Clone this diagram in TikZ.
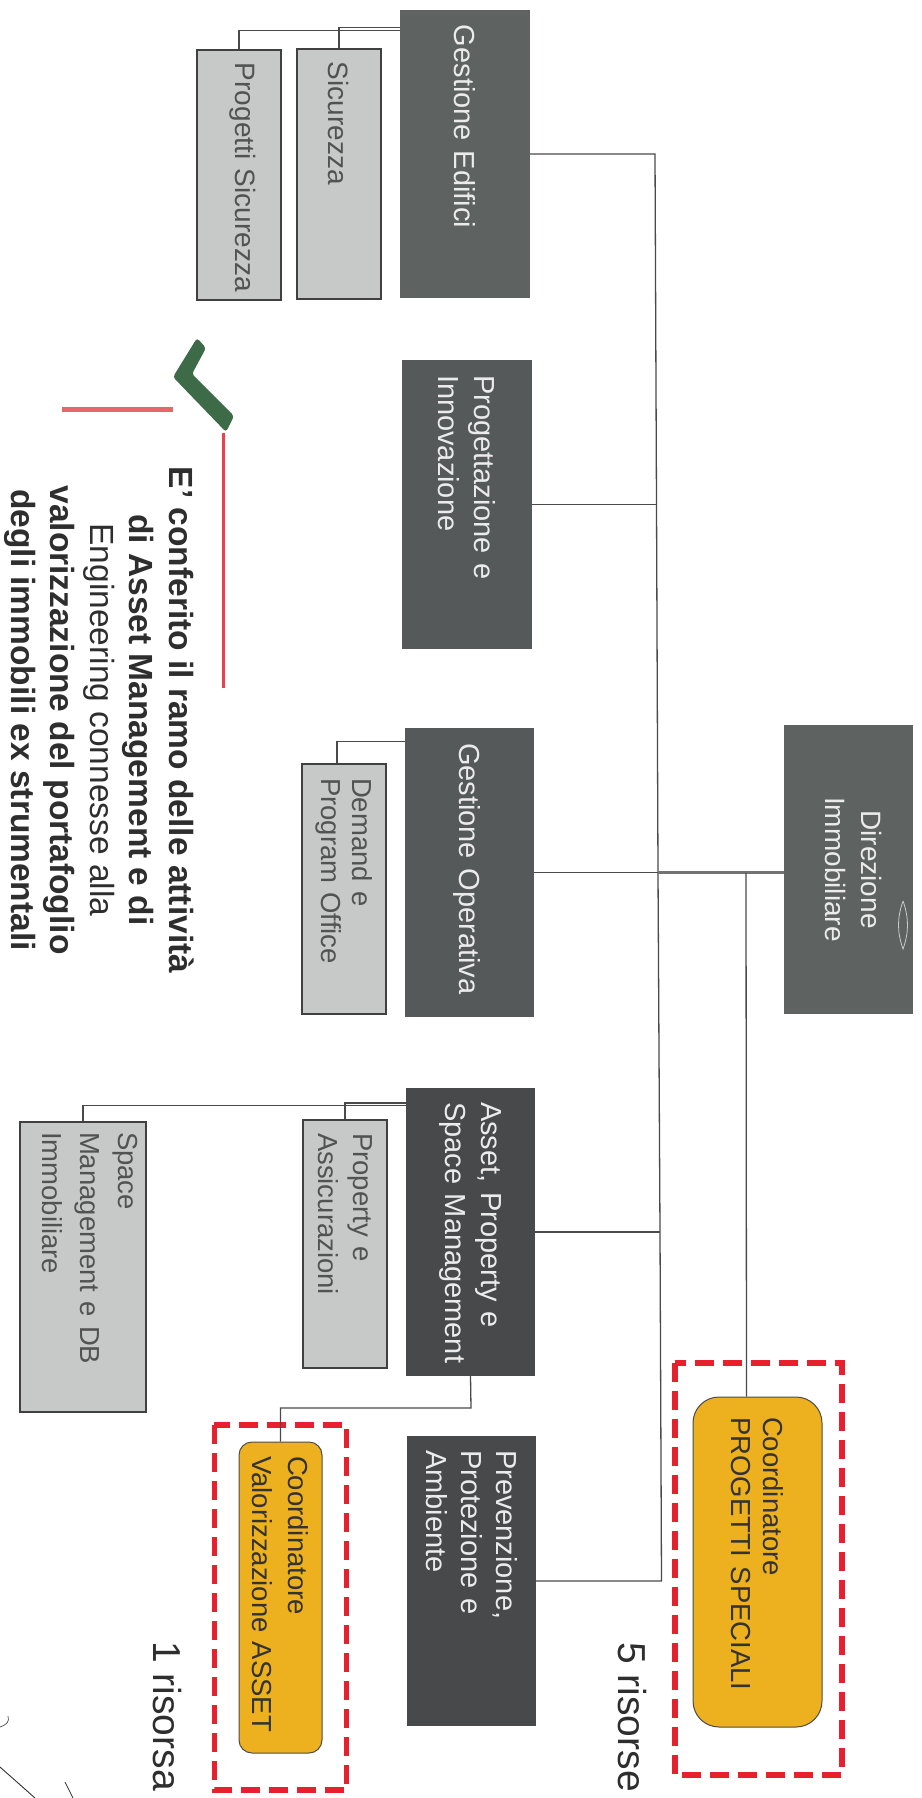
\documentclass[tikz,border=0pt]{standalone}
\usepackage{fontspec}
\setmainfont{Liberation Sans}
\usetikzlibrary{calc}
\lefthyphenmin=64
\definecolor{darkA}{HTML}{5E6361}
\definecolor{darkB}{HTML}{55595A}
\definecolor{darkC}{HTML}{47494A}
\definecolor{lightbox}{HTML}{C6C9C7}
\definecolor{orangebox}{HTML}{EDB01E}
\definecolor{reddash}{HTML}{E8202E}
\definecolor{linecol}{HTML}{4A4A4A}
\definecolor{checkgreen}{HTML}{3E6B47}
\tikzset{
  orgbox/.style={rotate=-90,inner sep=0pt,align=left,anchor=center},
  darkbox/.style={orgbox,fill=#1,text=white!92!black},
  greybox/.style={orgbox,fill=lightbox,draw=black!75,line width=1.2pt,text=black!68},
  coordbox/.style={orgbox,fill=orangebox,draw=black!70,line width=1pt,text=black!80,rounded corners=#1},
  conn/.style={draw=linecol,line width=1.3pt},
  dashbox/.style={draw=reddash,line width=5.5pt,dash pattern=on 19pt off 9pt},
  note/.style={rotate=-90,inner sep=0pt,text=black!82},
}
\begin{document}
\begin{tikzpicture}[x=1pt,y=-1pt]
\useasboundingbox (0,0) rectangle (921,1798);
% dashed frames
\node[draw=none,inner sep=0pt,minimum width=167pt,minimum height=412pt] (frameB) at (758.5,1569) {};
\node[draw=none,inner sep=0pt,minimum width=132pt,minimum height=365pt] (frameA) at (280.5,1607.5) {};
% top-level boxes
\node[darkbox=darkA,minimum width=288pt,minimum height=130pt,text width=258pt,font=\fontsize{29}{36}\selectfont] (ge) at (465,154) {Gestione Edifici};
\node[darkbox=darkB,minimum width=289pt,minimum height=130pt,text width=259pt,font=\fontsize{29}{36}\selectfont] (pi) at (467,504.5) {Progettazione e\\Innovazione};
\node[darkbox=darkB,minimum width=289pt,minimum height=129pt,text width=259pt,font=\fontsize{29}{36}\selectfont] (go) at (469.5,872.5) {\rule{0pt}{27pt}Gestione Operativa};
\node[darkbox=darkC,minimum width=288pt,minimum height=129pt,text width=260pt,font=\fontsize{29}{36}\selectfont] (ap) at (470.5,1232) {Asset, Property e\\\mbox{Space Management}};
\node[darkbox=darkC,minimum width=290pt,minimum height=129pt,text width=262pt,font=\fontsize{29}{35}\selectfont] (pp) at (471.5,1581) {Prevenzione,\\Protezione e\\Ambiente};
\node[darkbox=darkA,minimum width=289pt,minimum height=129pt,text width=289pt,align=center,font=\fontsize{28}{36}\selectfont] (di) at (848.5,869.5) {Direzione\\Immobiliare\rule[-10pt]{0pt}{1pt}};
% grey boxes
\node[greybox,minimum width=250pt,minimum height=84pt,text width=224pt,font=\fontsize{28}{34}\selectfont] (si) at (339,174) {Sicurezza};
\node[greybox,minimum width=250pt,minimum height=84pt,text width=224pt,font=\fontsize{28}{34}\selectfont] (ps) at (239,175) {\mbox{Progetti Sicurezza}\rule[-14pt]{0pt}{1pt}};
\node[greybox,minimum width=250pt,minimum height=84pt,text width=222pt,font=\fontsize{27.5}{31}\selectfont] (de) at (344,889) {Demand e\\Program Office};
\node[greybox,minimum width=248pt,minimum height=84pt,text width=222pt,font=\fontsize{27.5}{35}\selectfont] (pa) at (345,1244) {Property e\\Assicurazioni};
\node[greybox,minimum width=290pt,minimum height=126pt,text width=270pt,font=\fontsize{27.5}{38}\selectfont] (sm) at (83,1267) {Space\\Management e DB\\Immobiliare\rule[-14pt]{0pt}{1pt}};
% orange boxes
\node[coordbox=26pt,minimum width=330pt,minimum height=129pt,text width=290pt,font=\fontsize{27.5}{32}\selectfont] (cp) at (757.5,1562) {Coordinatore\\PROGETTI SPECIALI};
\node[coordbox=13pt,minimum width=311pt,minimum height=83pt,text width=283pt,font=\fontsize{27.5}{36}\selectfont] (cv) at (280.5,1597.5) {Coordinatore\\Valorizzazione ASSET};
% dashed frames drawn
\draw[dashbox] (frameB.north west) rectangle (frameB.south east);
\draw[dashbox] (frameA.north west) rectangle (frameA.south east);
% bus
\coordinate (busA) at (655,154);
\coordinate (busB) at (656.5,504.5);
\coordinate (busC) at (658,872.5);
\coordinate (busD) at (660,1232);
\coordinate (busE) at (661.5,1581);
\coordinate (branch) at (746,872.5);
\coordinate (apelbow) at (471,1408);
\draw[conn] (ge.north) -- (busA) -- (busB) -- (busC) -- (busD) -- (busE) -- (pp.north);
\draw[conn] (pi.north) -- (busB);
\draw[conn] (go.north) -- (busC);
\draw[conn] (ap.north) -- (busD);
\draw[draw=black!55,line width=2.6pt] (busC) -- (busC -| di.south);
\draw[conn] (branch) -- ([xshift=-11pt]cp.west);
\draw[conn] (ap.east) -- (apelbow) -| (cv.west);
\draw[conn] ([yshift=-18pt]ge.south west) -| (si.west);
\draw[conn] ([yshift=-21pt]ge.south west) -| (ps.west);
\draw[conn] ([yshift=-14pt]go.south west) -| ([xshift=-7pt]de.west);
\draw[conn,line width=2pt] ([yshift=-15pt]ap.south west) -| (pa.west);
\draw[conn] ([yshift=-18pt]ap.south west) -| (sm.west);
% tick and red strokes
\fill[checkgreen,rounded corners=3pt] (197,338) -- (206,348) -- (192,374) -- (234,416) -- (226,432) -- (173,377) -- cycle;
\draw[draw=red!55!white!90!black,line width=5pt] (62,409) -- (173,409);
\draw[draw=reddash!85!white,line width=3pt] (223,433) -- (223,688);
% note
\node[note,align=center,font=\fontsize{33.5}{39.5}\selectfont] (notetext) at (99,720) {\textbf{E' conferito il ramo delle attività}\\\textbf{di Asset Management e di}\\Engineering connesse alla\\\textbf{valorizzazione del portafoglio}\\\textbf{degli immobili ex strumentali}};
\node[note,font=\fontsize{39}{44}\selectfont] (fiveres) at (632,1717) {5 risorse};
\node[note,font=\fontsize{39}{44}\selectfont] (oneres) at (167,1716) {1 risorsa};
% scan marks
\draw[white!80!black,line width=0.8pt] (903,901) .. controls (909,918) and (909,932) .. (903,949) .. controls (897,932) and (897,918) .. (903,901);
\draw[black!70,line width=0.7pt] (0,1727) .. controls (6,1725) and (10,1722) .. (8,1716);
\draw[black!80,line width=0.9pt] (0,1767) -- (35,1798);
\draw[black!80,line width=0.7pt] (65,1782) -- (73,1798);
\end{tikzpicture}
\end{document}
